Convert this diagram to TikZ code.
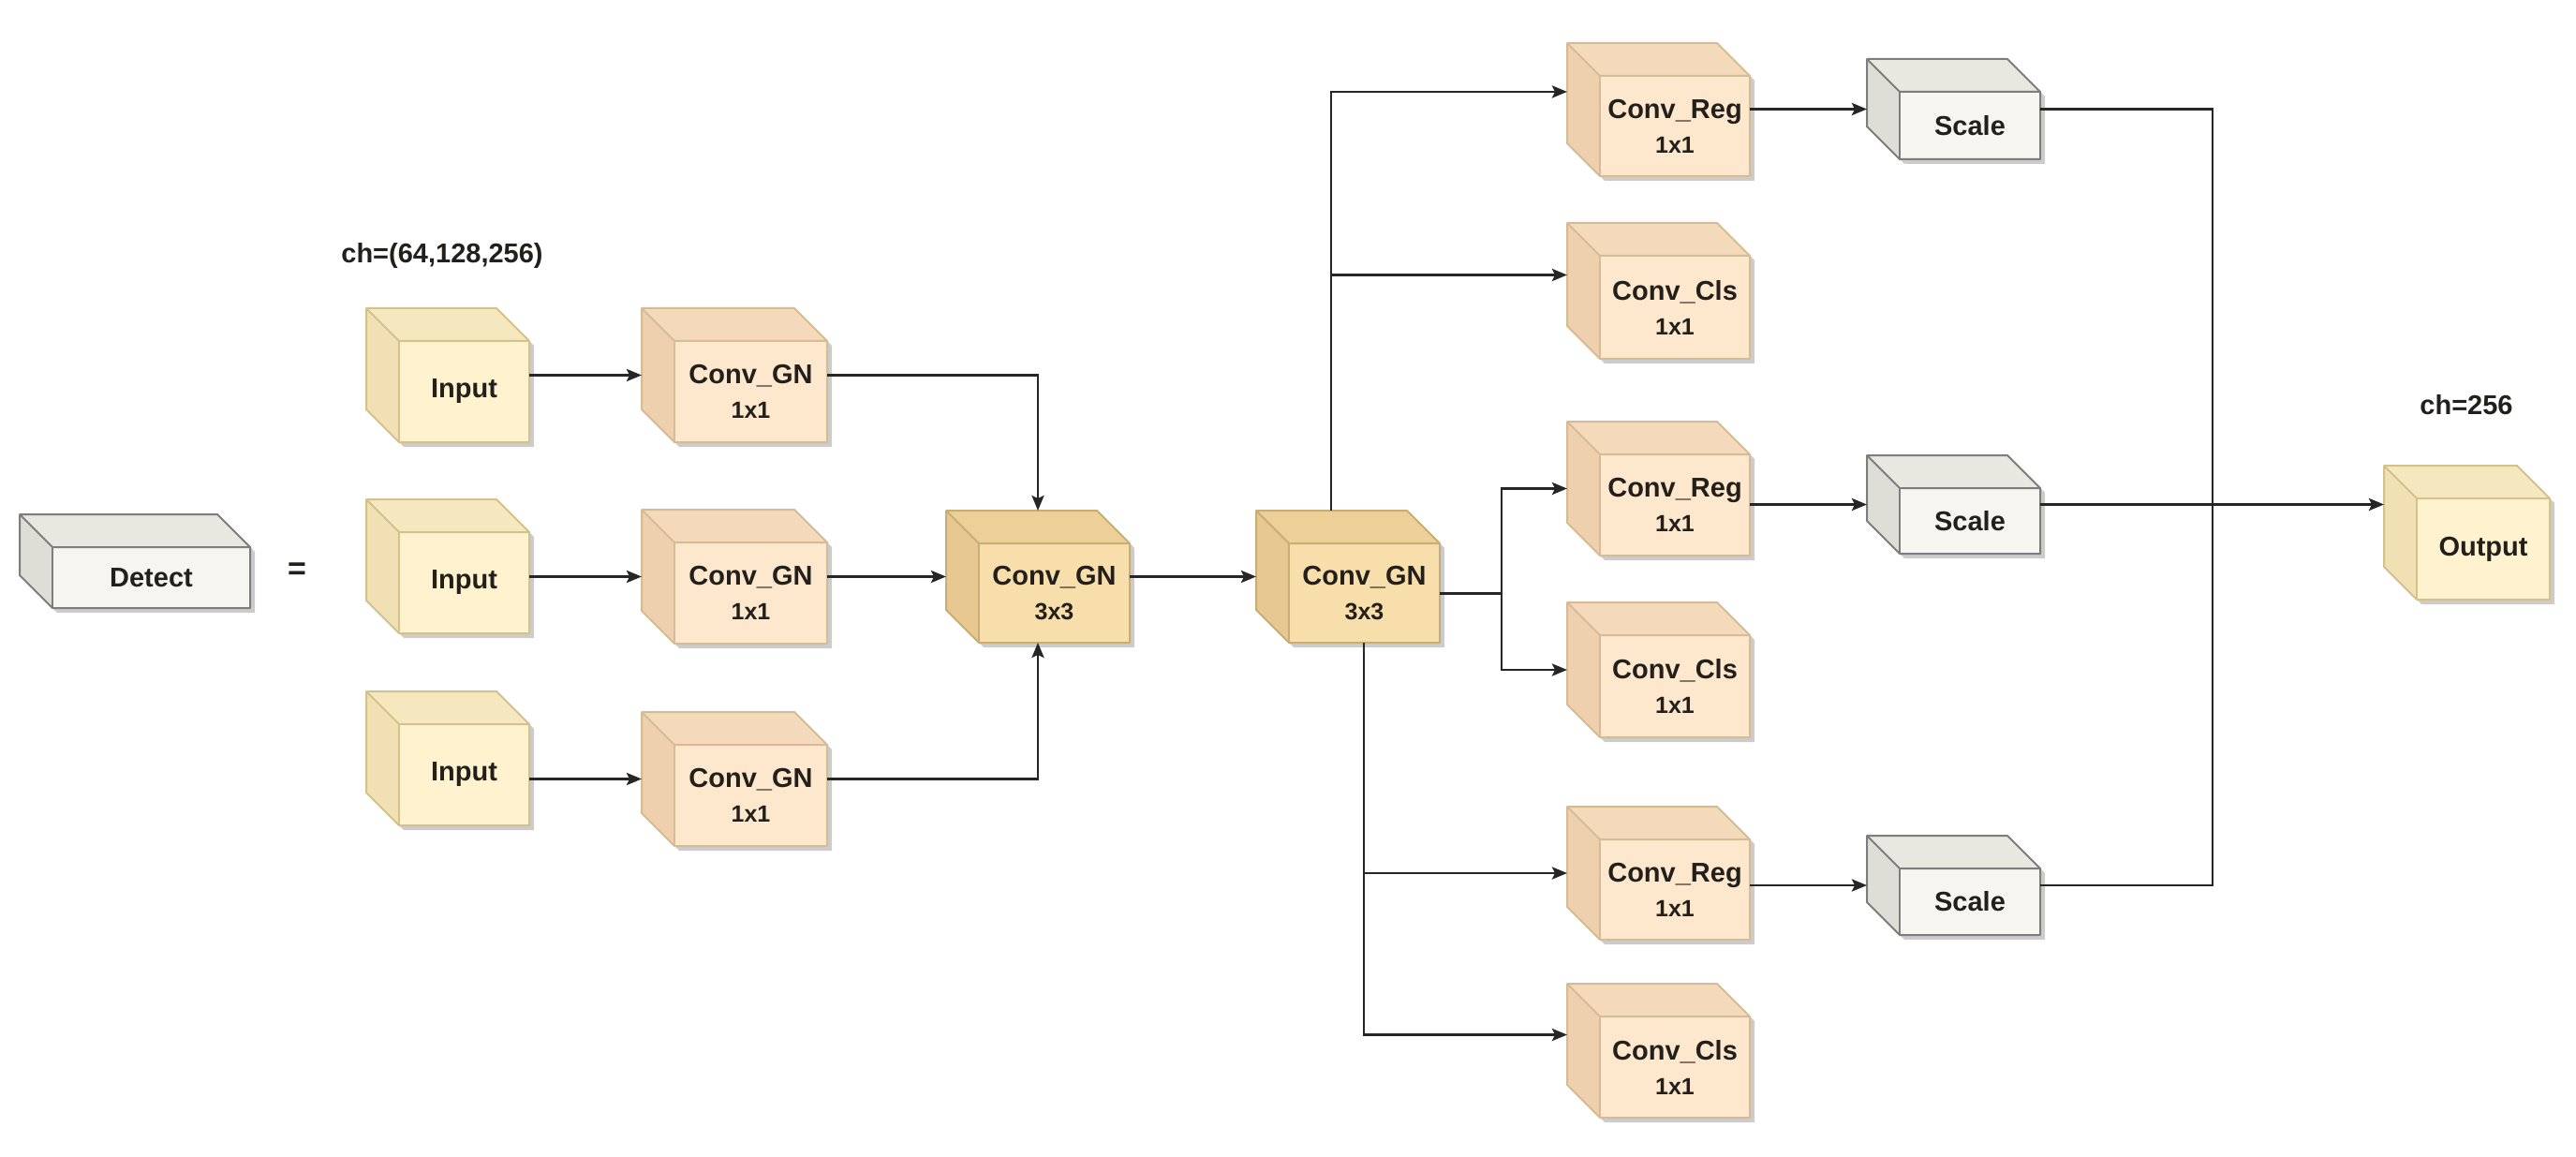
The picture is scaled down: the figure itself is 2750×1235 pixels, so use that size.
\documentclass[tikz,border=0pt]{standalone}
\usepackage{fontspec}
\setmainfont{Liberation Sans}
\usetikzlibrary{calc,arrows.meta}
\definecolor{yelF}{RGB}{255,243,207}
\definecolor{yelT}{RGB}{246,232,190}
\definecolor{yelD}{RGB}{240,224,180}
\definecolor{yelS}{RGB}{212,194,140}
\definecolor{pchF}{RGB}{253,231,205}
\definecolor{pchT}{RGB}{244,217,186}
\definecolor{pchD}{RGB}{238,208,174}
\definecolor{pchS}{RGB}{214,188,150}
\definecolor{tanF}{RGB}{247,222,170}
\definecolor{tanT}{RGB}{237,208,152}
\definecolor{tanD}{RGB}{231,200,144}
\definecolor{tanS}{RGB}{200,174,118}
\definecolor{gryF}{RGB}{246,245,240}
\definecolor{gryT}{RGB}{232,231,224}
\definecolor{gryD}{RGB}{222,222,214}
\definecolor{gryS}{RGB}{125,125,125}
\definecolor{txt}{RGB}{35,32,28}
\definecolor{lin}{RGB}{38,38,38}
\tikzset{
  bbox/.style={rectangle, inner sep=0pt, outer sep=0pt, anchor=north west},
  lbl/.style={font=\fontsize{14.5}{18.5}\selectfont\bfseries, text=txt, align=center, inner sep=0pt},
  chlbl/.style={font=\fontsize{14.5}{17}\selectfont\bfseries, text=txt, inner sep=0pt},
  ln/.style={draw=lin, line width=1.4pt},
  arr/.style={ln, -{Stealth[length=8pt,width=6.5pt,inset=1.5pt]}},
}
\newcommand\sub[1]{\\\fontsize{12.5}{18.5}\selectfont #1}
% name, left, top, w, h, kind, text
\newcommand\cubebox[7]{%
  \node[bbox, minimum width={#4*0.5pt}, minimum height={#5*0.5pt}] (#1) at (#2,#3) {};
  \fill[black, opacity=.2] ($(#1.north west)+(5,5)$) -- ++(#4-35,0) -- ++(35,35) -- ++(0,#5-35) -- ++(-#4+35,0) -- ++(-35,-35) -- cycle;
  \fill[#6F] (#1.north west) -- ++(#4-35,0) -- ++(35,35) -- ++(0,#5-35) -- ++(-#4+35,0) -- ++(-35,-35) -- cycle;
  \fill[#6T] (#1.north west) -- ++(#4-35,0) -- ++(35,35) -- ++(-#4+35,0) -- cycle;
  \fill[#6D] (#1.north west) -- ++(35,35) -- ++(0,#5-35) -- ++(-35,-35) -- cycle;
  \draw[#6S, line width=1pt] (#1.north west) -- ++(35,35) -- ++(#4-35,0);
  \draw[#6S, line width=1pt] ($(#1.north west)+(35,35)$) -- ++(0,#5-35);
  \draw[#6S, line width=1pt, line join=round] (#1.north west) -- ++(#4-35,0) -- ++(35,35) -- ++(0,#5-35) -- ++(-#4+35,0) -- ++(-35,-35) -- cycle;
  \node[lbl] (#1-t) at ($(#1.center)+(17.5,17.5)$) {#7};
}
\begin{document}
\begin{tikzpicture}[x=0.5pt, y=-0.5pt]
\fill[white] (0,0) rectangle (2750,1235);
\useasboundingbox (0,0) rectangle (2750,1235);

\cubebox{det}{21}{549}{246}{100}{gry}{Detect}
\node[font=\fontsize{17}{20}\selectfont\bfseries, text=txt] (eq) at (317,610) {=};
\node[chlbl] (ch1) at (472,273) {ch=(64,128,256)};
\node[chlbl] (ch2) at (2633,432) {ch=256};

\cubebox{in1}{391}{329}{174}{143}{yel}{Input}
\cubebox{in2}{391}{533}{174}{143}{yel}{Input}
\cubebox{in3}{391}{738}{174}{143}{yel}{Input}

\cubebox{g1}{685}{329}{198}{143}{pch}{Conv\_GN\sub{1x1}}
\cubebox{g2}{685}{544}{198}{143}{pch}{Conv\_GN\sub{1x1}}
\cubebox{g3}{685}{760}{198}{143}{pch}{Conv\_GN\sub{1x1}}

\cubebox{h1}{1010}{545}{196}{141}{tan}{Conv\_GN\sub{3x3}}
\cubebox{h2}{1341}{545}{196}{141}{tan}{Conv\_GN\sub{3x3}}

\cubebox{r1}{1673}{46}{195}{142}{pch}{Conv\_Reg\sub{1x1}}
\cubebox{c1}{1673}{238}{195}{145}{pch}{Conv\_Cls\sub{1x1}}
\cubebox{r2}{1673}{450}{195}{143}{pch}{Conv\_Reg\sub{1x1}}
\cubebox{c2}{1673}{643}{195}{144}{pch}{Conv\_Cls\sub{1x1}}
\cubebox{r3}{1673}{861}{195}{142}{pch}{Conv\_Reg\sub{1x1}}
\cubebox{c3}{1673}{1050}{195}{143}{pch}{Conv\_Cls\sub{1x1}}

\cubebox{s1}{1993}{63}{185}{107}{gry}{Scale}
\cubebox{s2}{1993}{486}{185}{105}{gry}{Scale}
\cubebox{s3}{1993}{892}{185}{106}{gry}{Scale}

\cubebox{out}{2545}{497}{177}{143}{yel}{Output}

% connectors
\draw[arr] (in1.east |- g1.west) -- (g1.west);
\draw[arr] (in2.east |- g2.west) -- (g2.west);
\draw[arr] (in3.east |- g3.west) -- (g3.west);
\draw[arr] (g1.east) -| (h1.north);
\draw[arr] (g2.east) -- (h1.west |- g2.east);
\draw[arr] (g3.east) -| (h1.south);
\draw[arr] (h1.east) -- (h2.west);

\coordinate (tb) at ($(h2.north)+(-18,0)$);
\coordinate (r1a) at ($(r1.west)+(0,-19)$);
\coordinate (c1a) at ($(c1.west)+(0,-17)$);
\draw[arr] (tb) |- (r1a);
\draw[arr] (tb |- c1a) -- (c1a);

\coordinate (hr) at ($(h2.east)+(0,18)$);
\coordinate (rb) at ($(hr)+(66,0)$);
\draw[ln] (hr) -- (rb);
\draw[arr] (rb) |- (r2.west);
\draw[arr] (rb) |- (c2.west);

\coordinate (hb) at ($(h2.south)+(17,0)$);
\coordinate (c3a) at ($(c3.west)+(0,-17)$);
\draw[arr] (hb) |- (r3.west);
\draw[arr] (hb) |- (c3a);

\draw[arr] (r1.east |- s1.west) -- (s1.west);
\draw[arr] (r2.east |- s2.west) -- (s2.west);
\draw[arr] (r3.east |- s3.west) -- (s3.west);

\coordinate (jx) at ($(s1.east)+(184,0)$);
\draw[ln] (s1.east) -| (jx |- s2.east);
\draw[ln] (s3.east) -| (jx |- s2.east);
\draw[arr] (s2.east) -- (out.west |- s2.east);
\end{tikzpicture}
\end{document}
